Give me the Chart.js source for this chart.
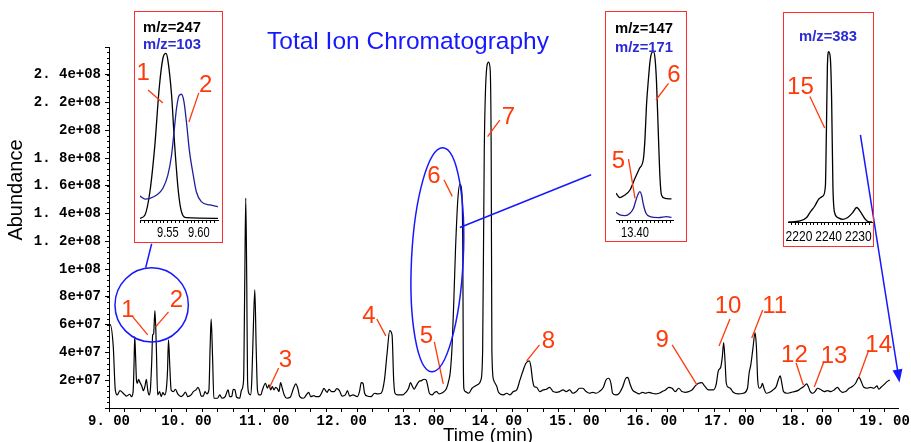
<!DOCTYPE html>
<html>
<head>
<meta charset="utf-8">
<script src="https://cdn.jsdelivr.net/npm/chart.js@4.4.1/dist/chart.umd.min.js"></script>
<style>
  body { margin: 0; background: #fff; }
  #wrap { position: relative; width: 911px; height: 442px; overflow: hidden; }
  #tic { position: absolute; left: 0; top: 0; }
  .box { position: absolute; }
  .box canvas { position: absolute; left: 0; top: 0; }
  .frame { position: absolute; left: 0; top: 0; right: 0; bottom: 0; border: 1.5px solid #ff2d2d; box-sizing: border-box; pointer-events: none; }
  .mz { position: absolute; font: bold 14.8px "Liberation Sans", Arial, sans-serif; line-height: 16px; white-space: nowrap; }
</style>
</head>
<body>
<div id="wrap">
  <canvas id="tic" width="911" height="442" style="width:911px;height:442px"></canvas>

  <div class="box" style="left:134px;top:11px;width:89px;height:232px">
    <canvas id="in1" width="89" height="232" style="width:89px;height:232px"></canvas>
    <div class="mz" style="left:9px;top:8px;color:#000">m/z=247</div>
    <div class="mz" style="left:9px;top:25px;color:#2a2ad6">m/z=103</div>
    <div class="frame"></div>
  </div>

  <div class="box" style="left:605px;top:11px;width:82px;height:231px">
    <canvas id="in2" width="82" height="231" style="width:82px;height:231px"></canvas>
    <div class="mz" style="left:10px;top:9px;color:#000">m/z=147</div>
    <div class="mz" style="left:10px;top:28px;color:#2a2ad6">m/z=171</div>
    <div class="frame"></div>
  </div>

  <div class="box" style="left:783px;top:12px;width:91px;height:235px">
    <canvas id="in3" width="91" height="235" style="width:91px;height:235px"></canvas>
    <div class="mz" style="left:16px;top:16px;color:#2a2ad6">m/z=383</div>
    <div class="frame"></div>
  </div>
</div>

<script>
// total ion chromatogram: time (min) and abundance (millions of counts)
const ticTime = [
  9.000, 9.015, 9.055, 9.081, 9.106, 9.141, 9.183, 9.226, 9.269, 9.290, 9.311, 9.322, 9.332, 9.344, 9.354,
  9.367, 9.380, 9.401, 9.422, 9.443, 9.464, 9.482, 9.499, 9.516, 9.533, 9.550, 9.563, 9.575, 9.592, 9.610,
  9.627, 9.652, 9.673, 9.694, 9.720, 9.742, 9.754, 9.767, 9.784, 9.801, 9.831, 9.857, 9.886, 9.929, 9.959,
  9.985, 10.015, 10.058, 10.087, 10.121, 10.147, 10.168, 10.189, 10.215, 10.237, 10.262, 10.288, 10.304, 10.317, 10.335,
  10.352, 10.399, 10.428, 10.456, 10.498, 10.535, 10.556, 10.582, 10.602, 10.624, 10.645, 10.684, 10.709, 10.735, 10.750,
  10.763, 10.776, 10.786, 10.803, 10.825, 10.841, 10.862, 10.880, 10.897, 10.914, 10.935, 10.957, 10.978, 11.017, 11.042,
  11.063, 11.084, 11.106, 11.127, 11.148, 11.170, 11.191, 11.212, 11.234, 11.259, 11.293, 11.336, 11.379, 11.408, 11.434,
  11.459, 11.506, 11.553, 11.575, 11.600, 11.643, 11.664, 11.707, 11.749, 11.771, 11.792, 11.813, 11.835, 11.869, 11.903,
  11.937, 11.971, 12.005, 12.047, 12.073, 12.103, 12.146, 12.201, 12.230, 12.252, 12.274, 12.295, 12.329, 12.380, 12.423,
  12.465, 12.508, 12.551, 12.585, 12.619, 12.649, 12.670, 12.687, 12.721, 12.785, 12.828, 12.862, 12.887, 12.913, 12.934,
  12.960, 12.994, 13.028, 13.062, 13.088, 13.109, 13.130, 13.165, 13.199, 13.224, 13.254, 13.284, 13.318, 13.352, 13.382,
  13.400, 13.425, 13.447, 13.467, 13.497, 13.523, 13.549, 13.561, 13.567, 13.575, 13.595, 13.638, 13.680, 13.723, 13.766,
  13.795, 13.817, 13.838, 13.872, 13.894, 13.914, 13.927, 13.936, 13.958, 14.000, 14.021, 14.085, 14.128, 14.170, 14.213,
  14.256, 14.298, 14.341, 14.375, 14.418, 14.439, 14.460, 14.482, 14.512, 14.554, 14.597, 14.639, 14.682, 14.725, 14.767,
  14.810, 14.853, 14.895, 14.938, 14.981, 15.023, 15.066, 15.108, 15.151, 15.194, 15.236, 15.279, 15.321, 15.373, 15.407,
  15.441, 15.471, 15.492, 15.535, 15.577, 15.620, 15.662, 15.688, 15.714, 15.748, 15.790, 15.833, 15.876, 15.918, 15.961,
  16.003, 16.046, 16.089, 16.131, 16.174, 16.217, 16.259, 16.302, 16.344, 16.387, 16.430, 16.472, 16.515, 16.558, 16.600,
  16.643, 16.677, 16.728, 16.792, 16.826, 16.856, 16.886, 16.907, 16.924, 16.941, 16.958, 16.984, 17.010, 17.048, 17.112,
  17.176, 17.231, 17.252, 17.274, 17.299, 17.329, 17.346, 17.363, 17.384, 17.410, 17.423, 17.444, 17.474, 17.517, 17.559,
  17.602, 17.628, 17.653, 17.674, 17.696, 17.743, 17.794, 17.836, 17.879, 17.922, 17.956, 17.994, 18.015, 18.041, 18.071,
  18.101, 18.134, 18.169, 18.220, 18.263, 18.305, 18.348, 18.391, 18.425, 18.455, 18.497, 18.540, 18.582, 18.625, 18.668,
  18.689, 18.731, 18.774, 18.817, 18.859, 18.902, 18.923, 18.953, 18.987, 19.030, 19.064
]
const ticAbundM = [
  58, 60, 44.2, 13.0, 9.4, 12.5, 10.6, 8.6, 9.9, 8.2, 11.8, 30, 51.4, 35, 20.2,
  17.8, 20.7, 18.2, 15.9, 12.5, 15.9, 20.7, 13.0, 9.4, 13.0, 32.2, 52.6, 53.3, 70.1, 44.2,
  9.4, 11.8, 8.2, 11.0, 9.4, 15.4, 26.2, 49.0, 29.8, 13.0, 11.8, 13.5, 10.1, 8.2, 9.4,
  11.5, 8.2, 9.4, 11.8, 13.0, 14.9, 12.5, 8.6, 8.6, 11.8, 10.1, 13.0, 44.2, 63.9, 37.0,
  7.0, 7.0, 9.4, 7.0, 8.2, 13.0, 8.2, 8.2, 13.5, 13.0, 7.7, 7.0, 13.0, 20.2, 90,
  151, 90, 20.2, 10.6, 9.4, 20.2, 60, 85.0, 44.2, 13.0, 9.4, 9.4, 13.0, 17.8, 14.2,
  16.6, 13.0, 15.4, 13.0, 14.9, 13.9, 11.8, 18.2, 14.2, 9.4, 7.0, 7.7, 14.2, 17.3, 14.2,
  8.2, 7.0, 10.1, 11.3, 8.2, 8.9, 8.2, 8.2, 11.8, 14.2, 12.5, 11.3, 13.5, 11.8, 11.8,
  13.9, 12.5, 8.6, 9.4, 12.5, 8.6, 9.4, 8.2, 12, 18.2, 17.8, 10.6, 8.6, 8.2, 10.6,
  10.1, 10.6, 20.2, 39.4, 55.7, 52.6, 20.2, 10.6, 9.4, 9.4, 11.3, 14.2, 18.2, 15.4, 13.5,
  15.9, 19.0, 19.7, 20.7, 20.2, 15.9, 10.6, 9.4, 11.3, 11.8, 10.1, 10.6, 11.8, 14.2, 20.2,
  26, 46.8, 80, 114, 150, 161, 155, 114, 40, 14, 11.8, 10.6, 14.2, 15.9, 17.3,
  20.2, 41.8, 185.9, 246, 248.9, 243.6, 185.9, 41.8, 20.2, 15.4, 11.3, 9.4, 10.6, 9.4, 11.8,
  13.0, 20.2, 27.4, 32.2, 33.9, 29.8, 20.2, 15.4, 14.9, 11.8, 13.0, 13.5, 14.9, 11.8, 11.3,
  11.8, 13.0, 11.8, 13.0, 10.6, 11.8, 14.2, 14.2, 11.8, 10.6, 11.3, 10.6, 11.8, 14.9, 20.2,
  21.4, 17.8, 10.6, 9.4, 10.6, 14.9, 21.4, 22.1, 17.8, 13.0, 11.3, 10.1, 11.3, 10.6, 11.3,
  10.6, 10.1, 10.6, 11.8, 13.0, 14.9, 14.2, 11.8, 14.2, 11.8, 11.3, 11.8, 13.0, 15.9, 17.8,
  18.2, 15.9, 13.0, 13.0, 16.6, 26.9, 29.3, 37.0, 47.1, 34.6, 17.8, 14.9, 14.2, 11.3, 10.1,
  10.6, 14.2, 25.0, 31.0, 41.8, 54.3, 44.2, 20.2, 14.2, 15.4, 17.8, 14.2, 10.6, 11.3, 13.0,
  15.4, 20.2, 23.1, 17.8, 11.8, 10.6, 11.3, 11.8, 12.5, 14.2, 15.4, 17.3, 15.4, 11.8, 10.6,
  11.8, 14.2, 13.5, 11.8, 12.5, 11.8, 13.0, 14.9, 12.5, 11.3, 11.8, 14.2, 15.4, 17.8, 22.1,
  20.2, 14.9, 14.2, 14.9, 14.2, 15.9, 13.5, 14.9, 16.6, 19.0, 20.2
]
const xTickLabels = ['9. 00', '10. 00', '11. 00', '12. 00', '13. 00', '14. 00', '15. 00', '16. 00', '17. 00', '18. 00', '19. 00']
const yTickLabels = ['2e+07', '4e+07', '6e+07', '8e+07', '1e+08', '1. 2e+08', '1. 4e+08', '1. 6e+08', '1. 8e+08', '2e+08', '2. 2e+08', '2. 4e+08']

// peak numbers on the main trace: [time, abundance M] of the label, leader [t1, a1, t2, a2]
const peakNames = ['1', '2', '3', '4', '5', '6', '7', '8', '9', '10', '11', '12', '13', '14']
const peakLabelAt = [
  [9.243, 70.6], [9.870, 77.8], [11.276, 34.6], [12.350, 65.6], [13.092, 51.2], [13.190, 166.5], [14.150, 209],
  [14.665, 47.6], [16.132, 49.0], [16.980, 72.8], [17.581, 72.8], [17.836, 38.2], [18.348, 36.8], [18.923, 45.4]
]
const peakLeaders = [
  [9.307, 65.6, 9.499, 52.6], [9.767, 69.2, 9.601, 58.4], [11.187, 28.8, 11.072, 15.1], [12.453, 64.1, 12.568, 51.9],
  [13.194, 47.6, 13.309, 17.3], [13.318, 164.3, 13.425, 152.3], [14.038, 207.1, 13.881, 195.3], [14.550, 45.4, 14.384, 33.9],
  [16.260, 45.4, 16.580, 16.6], [17.005, 64.1, 16.864, 44.7], [17.427, 70.6, 17.286, 50.4], [17.858, 32.4, 17.951, 16.6],
  [18.220, 33.9, 18.092, 15.1], [18.795, 41.8, 18.668, 22.3]
]

// inset 1: m/z 247 (black) and m/z 103 (blue), relative abundance
const in1BlackTime = [9.505, 9.513, 9.521, 9.529, 9.536, 9.542, 9.547, 9.550, 9.556, 9.561, 9.567, 9.572, 9.580, 9.631]
const in1BlackVal = [0, 2.0, 16.1, 44.4, 78.8, 97.0, 100, 95.9, 74.7, 44.4, 16.1, 4.0, 0.4, 0]
const in1BlueTime = [9.504, 9.513, 9.521, 9.532, 9.542, 9.550, 9.556, 9.560, 9.564, 9.568, 9.572, 9.576, 9.580, 9.585, 9.591, 9.596, 9.604, 9.618, 9.631]
const in1BlueVal = [13.7, 11.7, 12.1, 14.1, 18.2, 26.2, 38.4, 52.5, 66.7, 74.3, 75.2, 70.7, 58.5, 40.4, 26.2, 16.1, 10.1, 8.1, 7.0]

// inset 2: m/z 147 (black) and m/z 171 (blue)
const in2BlackTime = [13.362, 13.370, 13.380, 13.390, 13.400, 13.409, 13.417, 13.420, 13.423, 13.427, 13.430, 13.433, 13.437, 13.440, 13.443, 13.447, 13.450, 13.453, 13.460, 13.473]
const in2BlackVal = [15.9, 13.3, 14.9, 17.8, 24.8, 30.7, 36.7, 48.5, 68.3, 84.2, 94.1, 99.0, 100, 96.1, 82.2, 48.5, 24.8, 14.9, 12.9, 12.5]
const in2BlueTime = [13.362, 13.370, 13.380, 13.390, 13.397, 13.402, 13.407, 13.410, 13.413, 13.417, 13.422, 13.430, 13.447, 13.463, 13.473]
const in2BlueVal = [4.6, 3.0, 2.6, 4.0, 7.0, 11.9, 15.9, 16.8, 14.9, 8.9, 4.0, 2.0, 1.4, 2.0, 1.6]

// inset 3: m/z 383, x in label units (0 = '2220', 1 = '2240', 2 = '2230')
const in3Pos = [-0.357, 0.033, 0.257, 0.367, 0.533, 0.677, 0.810, 0.890, 0.923, 0.957, 1.0, 1.057, 1.100, 1.143, 1.200, 1.310, 1.477, 1.643, 1.810, 1.943, 2.090, 2.233, 2.367, 2.457]
const in3Val = [0, 0.6, 2.6, 5.5, 9.4, 13.7, 15.3, 21.1, 52.3, 91.2, 100, 96.1, 71.7, 21.1, 5.5, 2.6, 1.6, 2.6, 5.5, 8.5, 5.5, 1.6, 0, 0]
const in3TickLabels = ['2220', '2240', '2230']

const RED = '#ff3a0a'
const BLUE = '#1818ff'

function marksPlugin() {
  return {
    id: 'ticMarks',
    afterDraw(chart) {
      const { ctx, scales: { x, y }, chartArea } = chart
      const P = (t, m) => [x.getPixelForValue(t), y.getPixelForValue(m * 1e6)]
      ctx.save()

      // minor ticks on y axis
      ctx.strokeStyle = '#000'
      ctx.lineWidth = 1
      ctx.beginPath()
      for (let v = 4e6; v < 2.59e8; v += 4e6) {
        const py = Math.round(y.getPixelForValue(v)) + 0.5
        ctx.moveTo(chartArea.left - 2, py)
        ctx.lineTo(chartArea.left, py)
      }
      ctx.stroke()

      // titles
      ctx.fillStyle = BLUE
      ctx.font = '24.5px "Liberation Sans", Arial, sans-serif'
      ctx.textAlign = 'center'
      ctx.textBaseline = 'middle'
      ctx.fillText('Total Ion Chromatography', 408, 42)

      ctx.fillStyle = '#000'
      ctx.font = '19px "Liberation Sans", Arial, sans-serif'
      ctx.textBaseline = 'alphabetic'
      ctx.fillText('Time (min)', 488, 441)
      ctx.textBaseline = 'middle'
      ctx.save()
      ctx.translate(16, 190)
      ctx.rotate(-Math.PI / 2)
      ctx.font = '20px "Liberation Sans", Arial, sans-serif'
      ctx.fillText('Abundance', 0, 0)
      ctx.restore()

      // red peak numbers
      ctx.strokeStyle = RED
      ctx.lineWidth = 1.3
      peakLeaders.forEach(l => {
        const a = P(l[0], l[1]), b = P(l[2], l[3])
        ctx.beginPath()
        ctx.moveTo(a[0], a[1])
        ctx.lineTo(b[0], b[1])
        ctx.stroke()
      })
      ctx.fillStyle = RED
      ctx.font = '24px "Liberation Sans", Arial, sans-serif'
      peakNames.forEach((n, i) => {
        const p = P(peakLabelAt[i][0], peakLabelAt[i][1])
        ctx.fillText(n, p[0], p[1])
      })

      // blue circles and connector lines
      ctx.strokeStyle = BLUE
      ctx.lineWidth = 1.5
      const ell = (t, m, dt, dm, rot) => {
        const c = P(t, m)
        const rx = x.getPixelForValue(t + dt) - c[0]
        const ry = c[1] - y.getPixelForValue((m + dm) * 1e6)
        ctx.beginPath()
        ctx.ellipse(c[0], c[1], rx, ry, rot, 0, Math.PI * 2)
        ctx.stroke()
      }
      ell(9.550, 74.2, 0.473, 26.7, 0)
      ell(13.233, 106.7, 0.333, 80.7, 0.05)

      const seg = (t1, m1, t2, m2) => {
        const a = P(t1, m1), b = P(t2, m2)
        ctx.beginPath()
        ctx.moveTo(a[0], a[1])
        ctx.lineTo(b[0], b[1])
        ctx.stroke()
        return [a, b]
      }
      seg(9.473, 100.9, 9.550, 118.2)
      seg(13.523, 129.9, 15.215, 167.9)
      const [a, b] = seg(18.687, 196.6, 19.185, 20.5)
      const ang = Math.atan2(b[1] - a[1], b[0] - a[0])
      ctx.fillStyle = BLUE
      ctx.beginPath()
      ctx.moveTo(b[0] + 3 * Math.cos(ang), b[1] + 3 * Math.sin(ang))
      ctx.lineTo(b[0] - 10 * Math.cos(ang) + 5 * Math.sin(ang), b[1] - 10 * Math.sin(ang) - 5 * Math.cos(ang))
      ctx.lineTo(b[0] - 10 * Math.cos(ang) - 5 * Math.sin(ang), b[1] - 10 * Math.sin(ang) + 5 * Math.cos(ang))
      ctx.closePath()
      ctx.fill()

      ctx.restore()
    }
  }
}

new Chart(document.getElementById('tic'), {
  type: 'line',
  data: {
    datasets: [{
      data: ticTime.map((t, i) => ({ x: t, y: ticAbundM[i] * 1e6 })),
      borderColor: '#000',
      borderWidth: 1.2,
      pointRadius: 0,
      cubicInterpolationMode: 'monotone',
      fill: false
    }]
  },
  options: {
    responsive: false,
    animation: false,
    devicePixelRatio: 1,
    layout: { padding: { left: 0, right: 6, top: 47, bottom: 0 } },
    plugins: { legend: { display: false }, tooltip: { enabled: false } },
    scales: {
      x: {
        type: 'linear',
        min: 9,
        max: 19.18,
        afterFit(s) { s.height = 34 },
        grid: { drawOnChartArea: false, tickLength: 4, color: '#000' },
        border: { color: '#000', width: 1 },
        ticks: {
          stepSize: 0.2,
          includeBounds: false,
          autoSkip: false,
          maxRotation: 0,
          padding: 1,
          color: '#000',
          font: { family: '"Liberation Mono", monospace', size: 14, weight: 'bold' },
          callback(v) {
            const r = Math.round(v)
            return Math.abs(v - r) < 1e-6 ? (xTickLabels[r - 9] || '') : ''
          }
        }
      },
      y: {
        min: 0,
        max: 2.598e8,
        afterFit(s) { s.width = 109 },
        grid: { drawOnChartArea: false, tickLength: 4, color: '#000' },
        border: { color: '#000', width: 1 },
        ticks: {
          stepSize: 2e7,
          includeBounds: false,
          padding: 4,
          color: '#000',
          font: { family: '"Liberation Mono", monospace', size: 14, weight: 'bold' },
          callback(v) { return yTickLabels[Math.round(v / 2e7) - 1] || '' }
        }
      }
    }
  },
  plugins: [marksPlugin()]
})

// small chromatograms in the red boxes
function insetPlugin(cfg) {
  return {
    id: 'insetMarks',
    afterDraw(chart) {
      const { ctx, scales: { x, y }, chartArea } = chart
      ctx.save()
      ctx.fillStyle = '#000'
      ctx.font = cfg.labelFont
      ctx.textAlign = 'center'
      ctx.textBaseline = 'middle'
      cfg.labelAt.forEach((v, i) => {
        ctx.save()
        ctx.translate(x.getPixelForValue(v), chartArea.bottom + cfg.labelDy)
        ctx.scale(cfg.squeeze, 1)
        ctx.fillText(cfg.labels[i], 0, 0)
        ctx.restore()
      })
      ctx.strokeStyle = RED
      ctx.fillStyle = RED
      ctx.lineWidth = 1.3
      ctx.font = '24px "Liberation Sans", Arial, sans-serif'
      cfg.marks.forEach(m => {
        ctx.fillText(m.text, x.getPixelForValue(m.at[0]), y.getPixelForValue(m.at[1]))
        ctx.beginPath()
        ctx.moveTo(x.getPixelForValue(m.line[0]), y.getPixelForValue(m.line[1]))
        ctx.lineTo(x.getPixelForValue(m.line[2]), y.getPixelForValue(m.line[3]))
        ctx.stroke()
      })
      ctx.restore()
    }
  }
}

function inset(id, cfg) {
  return new Chart(document.getElementById(id), {
    type: 'line',
    data: {
      datasets: cfg.series.map(s => ({
        data: s.t.map((t, i) => ({ x: t, y: s.v[i] })),
        borderColor: s.color,
        borderWidth: 1.3,
        pointRadius: 0,
        cubicInterpolationMode: 'monotone',
        fill: false
      }))
    },
    options: {
      responsive: false,
      animation: false,
      devicePixelRatio: 1,
      layout: { padding: cfg.pad },
      plugins: { legend: { display: false }, tooltip: { enabled: false } },
      scales: {
        x: {
          type: 'linear',
          min: cfg.xmin,
          max: cfg.xmax,
          afterFit(s) { s.height = cfg.axisH },
          grid: { drawOnChartArea: false, tickLength: 3, color: '#000' },
          border: { color: '#000', width: 1 },
          ticks: { stepSize: cfg.step, includeBounds: false, autoSkip: false, maxRotation: 0, callback: () => '' }
        },
        y: { display: false, min: cfg.ymin, max: cfg.ymax }
      }
    },
    plugins: [insetPlugin(cfg)]
  })
}

inset('in1', {
  series: [
    { t: in1BlueTime, v: in1BlueVal, color: '#1f1f9c' },
    { t: in1BlackTime, v: in1BlackVal, color: '#000' }
  ],
  pad: { left: 6, right: 5, top: 39, bottom: 0 },
  axisH: 23, xmin: 9.505, xmax: 9.631, step: 0.00625, ymin: -1, ymax: 102,
  labelAt: [9.55, 9.60], labels: ['9.55', '9.60'], labelDy: 13,
  labelFont: '15px "Liberation Sans", Arial, sans-serif', squeeze: 0.74,
  marks: [
    { text: '1', at: [9.510, 88.1], line: [9.518, 77.8, 9.542, 69.9] },
    { text: '2', at: [9.611, 80.8], line: [9.600, 76.0, 9.584, 58.4] }
  ]
})

inset('in2', {
  series: [
    { t: in2BlueTime, v: in2BlueVal, color: '#1f1f9c' },
    { t: in2BlackTime, v: in2BlackVal, color: '#000' }
  ],
  pad: { left: 11, right: 14, top: 39, bottom: 0 },
  axisH: 22, xmin: 13.362, xmax: 13.476, step: 0.008, ymin: 0, ymax: 101,
  labelAt: [13.40], labels: ['13.40'], labelDy: 13,
  labelFont: '15px "Liberation Sans", Arial, sans-serif', squeeze: 0.74,
  marks: [
    { text: '6', at: [13.478, 86.2], line: [13.467, 81.2, 13.442, 71.3] },
    { text: '5', at: [13.367, 34.6], line: [13.387, 36.2, 13.400, 12.9] }
  ]
})

inset('in3', {
  series: [
    { t: in3Pos, v: in3Val, color: '#000' }
  ],
  pad: { left: 5, right: 2, top: 38, bottom: 0 },
  axisH: 25, xmin: -0.37, xmax: 2.46, step: 0.125, ymin: 0, ymax: 101,
  labelAt: [0, 1, 2], labels: in3TickLabels, labelDy: 15.5,
  labelFont: '14px "Liberation Sans", Arial, sans-serif', squeeze: 0.86,
  marks: [
    { text: '15', at: [0.05, 79.2], line: [0.367, 73.7, 0.867, 55.2] }
  ]
})
</script>
</body>
</html>
